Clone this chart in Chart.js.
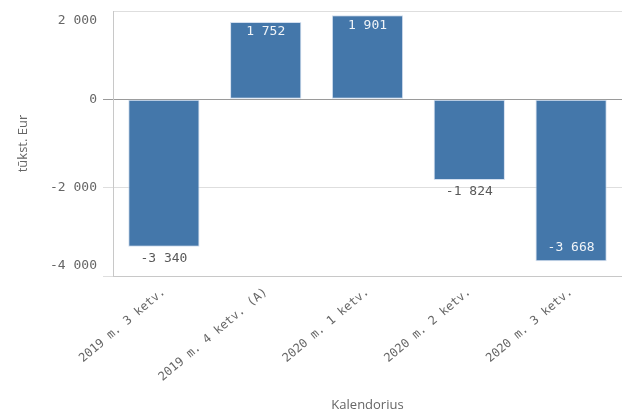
<!DOCTYPE html>
<html>
<head>
<meta charset="utf-8">
<script src="https://cdn.jsdelivr.net/npm/chart.js@4.4.1/dist/chart.umd.min.js"></script>
<style>
  html, body { margin: 0; padding: 0; background: #fff; }
</style>
</head>
<body>
<canvas id="grafikas" width="622" height="414"></canvas>
<script>
const ketvirciai = ['2019 m. 3 ketv.', '2019 m. 4 ketv. (A)', '2020 m. 1 ketv.', '2020 m. 2 ketv.', '2020 m. 3 ketv.'];
const reiksmes = [-3340, 1752, 1901, -1824, -3668];
const yTikai = [-4000, -2000, 0, 2000];

const skaiciuFontas = '"DejaVu Sans Mono", monospace';
const tekstoFontas = '"Open Sans", "Noto Sans", sans-serif';

// tūkstančių skyriklis - tarpas
function formatuoti(v) {
  const s = Math.abs(v).toString().replace(/\B(?=(\d{3})+(?!\d))/g, ' ');
  return (v < 0 ? '-' : '') + s;
}

// reikšmių etiketės ant stulpelių
const etiketes = {
  id: 'etiketes',
  afterDatasetsDraw(chart) {
    const ctx = chart.ctx;
    const meta = chart.getDatasetMeta(0);
    const area = chart.chartArea;
    ctx.save();
    ctx.font = '13px ' + skaiciuFontas;
    ctx.textAlign = 'center';
    ctx.textBaseline = 'middle';
    meta.data.forEach((bar, i) => {
      const v = reiksmes[i];
      const tekstas = formatuoti(v);
      let y, spalva;
      if (v >= 0) {
        const vieta = bar.y - area.top;
        if (vieta > 20) { y = bar.y - 10; spalva = '#595959'; }
        else { y = bar.y + 10; spalva = '#f0f4f8'; }
      } else {
        const vieta = area.bottom - bar.y;
        if (vieta > 20) { y = bar.y + 12; spalva = '#595959'; }
        else { y = bar.y - 14; spalva = '#f0f4f8'; }
      }
      ctx.fillStyle = spalva;
      ctx.fillText(tekstas, bar.x, y);
    });
    ctx.restore();
  }
};

const ctx = document.getElementById('grafikas').getContext('2d');
const grafikas = new Chart(ctx, {
  type: 'bar',
  data: {
    labels: ketvirciai,
    datasets: [{
      data: reiksmes,
      backgroundColor: '#4477aa',
      borderColor: 'rgba(200, 215, 235, 0.8)',
      borderWidth: 1,
      borderSkipped: false,
      categoryPercentage: 1,
      barPercentage: 0.7
    }]
  },
  options: {
    responsive: false,
    animation: false,
    layout: { padding: { top: 11, right: -6, left: 0, bottom: 0 } },
    plugins: {
      legend: { display: false },
      tooltip: { enabled: false }
    },
    scales: {
      y: {
        min: -4000,
        max: 2000,
        afterBuildTicks: (scale) => { scale.ticks = yTikai.map(v => ({ value: v })); },
        afterFit: (scale) => {
          scale.width = 113;
          scale.paddingTop = 0;
          scale.paddingBottom = 0;
        },
        border: { color: '#c8c8c8' },
        grid: {
          color: (c) => c.tick && c.tick.value === 0 ? '#9a9a9a' : '#dedede',
          tickColor: (c) => c.tick && c.tick.value === 2000 ? 'rgba(0,0,0,0)' : (c.tick && c.tick.value === 0 ? '#9a9a9a' : '#dedede'),
          tickLength: 10
        },
        ticks: {
          padding: 6,
          color: '#666',
          font: { family: skaiciuFontas, size: 13, lineHeight: 1.55 },
          // kraštinės etiketės paslenkamos į vidų
          callback: (v) => {
            if (v === 2000) return ['', formatuoti(v)];
            if (v === -4000) return [formatuoti(v), ''];
            return formatuoti(v);
          }
        },
        title: {
          display: true,
          text: 'tūkst. Eur',
          color: '#666',
          font: { family: tekstoFontas, size: 13 },
          padding: { top: 15, bottom: 0 }
        }
      },
      x: {
        afterFit: (scale) => { scale.height = 138; },
        border: { color: '#c8c8c8' },
        grid: { display: false },
        ticks: {
          minRotation: 40,
          maxRotation: 40,
          padding: 1,
          color: '#666',
          font: { family: skaiciuFontas, size: 12 }
        },
        title: {
          display: true,
          text: 'Kalendorius',
          color: '#666',
          font: { family: tekstoFontas, size: 13 },
          padding: { top: 4, bottom: 1 }
        }
      }
    }
  },
  plugins: [etiketes]
});
</script>
</body>
</html>
